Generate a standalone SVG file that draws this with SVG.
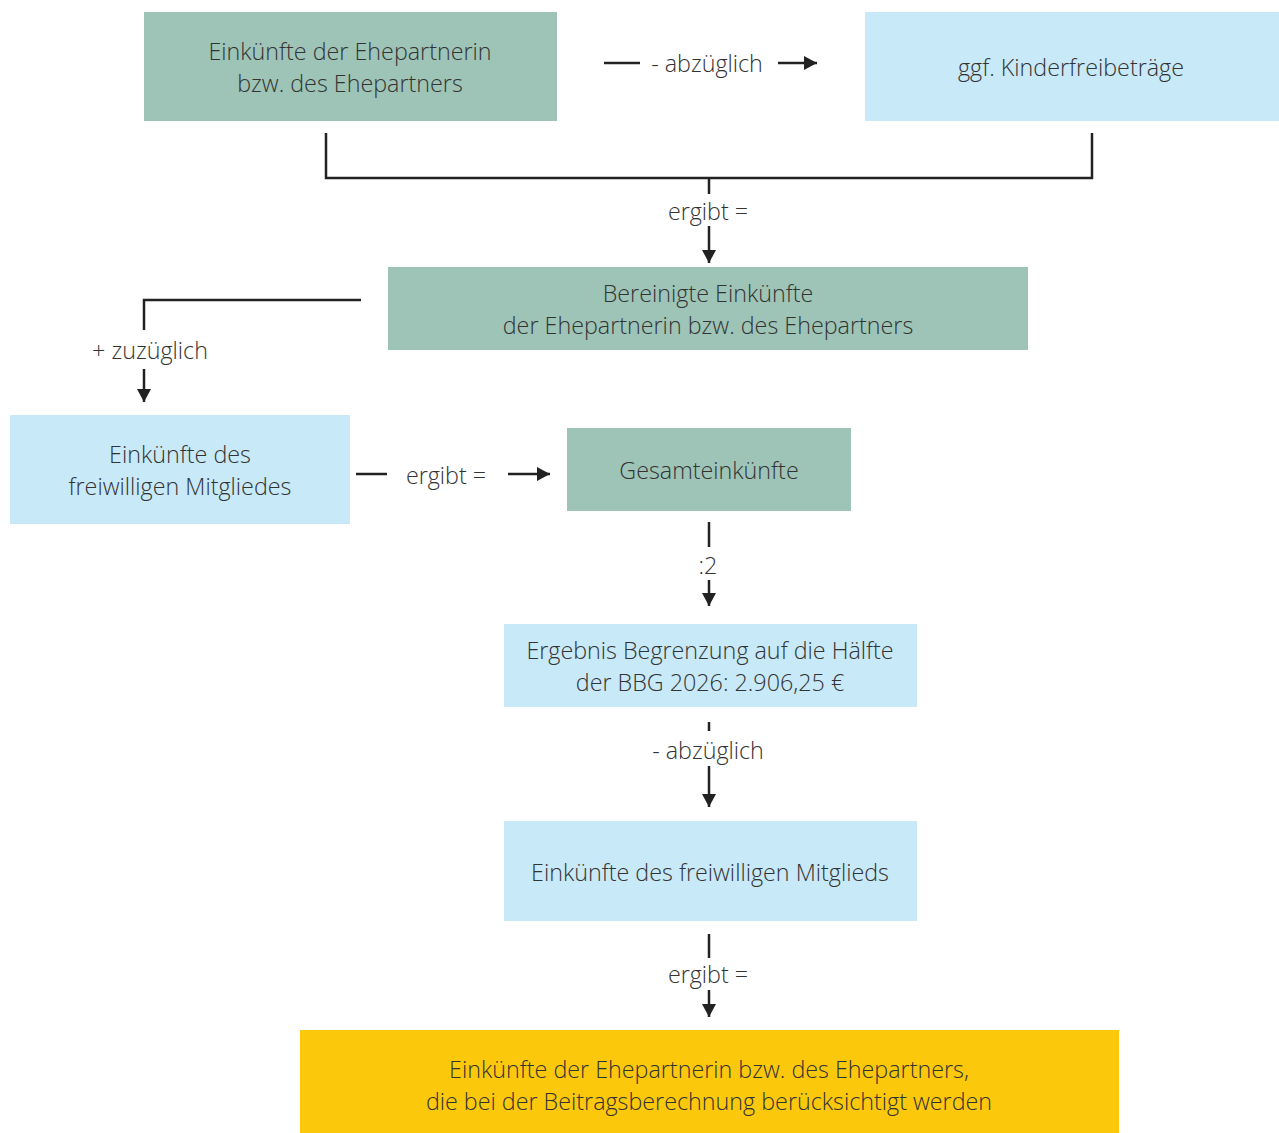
<svg xmlns="http://www.w3.org/2000/svg" width="1279" height="1133" viewBox="0 0 1279 1133">
<style>
text{font-family:"Open Sans","Noto Sans","Liberation Sans",sans-serif;font-weight:300;font-size:23.3px;fill:#333;text-anchor:middle;dominant-baseline:central}
.g{fill:#9dc4b6}.b{fill:#c8e9f8}.y{fill:#fcc80c}
.c{stroke:#222;stroke-width:2.5;fill:none}
</style>
<defs>
<marker id="ah" markerUnits="userSpaceOnUse" markerWidth="16" markerHeight="16" refX="13" refY="8" orient="auto">
<path d="M0,1 L13,8 L0,15 Z" fill="#222"/>
</marker>
</defs>
<rect width="1279" height="1133" fill="#fff"/>
<g id="n1"><rect class="g" x="144" y="12" width="413" height="109"/><text x="350" y="51">Einkünfte der Ehepartnerin</text><text x="350" y="83">bzw. des Ehepartners</text></g>
<g id="n2"><rect class="b" x="865" y="12" width="414" height="109"/><text x="1071" y="67">ggf. Kinderfreibeträge</text></g>
<g id="n3"><rect class="g" x="388" y="267" width="640" height="83"/><text x="708" y="293">Bereinigte Einkünfte</text><text x="708" y="325">der Ehepartnerin bzw. des Ehepartners</text></g>
<g id="n4"><rect class="b" x="10" y="415" width="340" height="109"/><text x="180" y="454">Einkünfte des</text><text x="180" y="486">freiwilligen Mitgliedes</text></g>
<g id="n5"><rect class="g" x="567" y="428" width="284" height="83"/><text x="709" y="470">Gesamteinkünfte</text></g>
<g id="n6"><rect class="b" x="504" y="624" width="413" height="83"/><text x="710" y="650">Ergebnis Begrenzung auf die Hälfte</text><text x="710" y="682">der BBG 2026: 2.906,25 €</text></g>
<g id="n7"><rect class="b" x="504" y="821" width="413" height="100"/><text x="710" y="872">Einkünfte des freiwilligen Mitglieds</text></g>
<g id="n8"><rect class="y" x="300" y="1030" width="819" height="103"/><text x="709" y="1069">Einkünfte der Ehepartnerin bzw. des Ehepartners,</text><text x="709" y="1101">die bei der Beitragsberechnung berücksichtigt werden</text></g>
<g id="connectors">
<line class="c" x1="604" y1="63" x2="640" y2="63"/>
<text x="707" y="63">- abzüglich</text>
<line class="c" x1="778" y1="63" x2="817" y2="63" marker-end="url(#ah)"/>
<polyline class="c" points="326,133 326,178 1092,178 1092,133"/>
<line class="c" x1="709" y1="178" x2="709" y2="194"/>
<text x="708" y="211">ergibt =</text>
<line class="c" x1="709" y1="226" x2="709" y2="263" marker-end="url(#ah)"/>
<polyline class="c" points="361,300 144,300 144,330"/>
<text x="150" y="350">+ zuzüglich</text>
<line class="c" x1="144" y1="369" x2="144" y2="402" marker-end="url(#ah)"/>
<line class="c" x1="356" y1="474" x2="387" y2="474"/>
<text x="446" y="475">ergibt =</text>
<line class="c" x1="508" y1="474" x2="550" y2="474" marker-end="url(#ah)"/>
<line class="c" x1="709" y1="522" x2="709" y2="547"/>
<text x="708" y="565">:2</text>
<line class="c" x1="709" y1="580" x2="709" y2="606" marker-end="url(#ah)"/>
<line class="c" x1="709" y1="722" x2="709" y2="731"/>
<text x="708" y="750">- abzüglich</text>
<line class="c" x1="709" y1="766" x2="709" y2="807" marker-end="url(#ah)"/>
<line class="c" x1="709" y1="934" x2="709" y2="958"/>
<text x="708" y="974">ergibt =</text>
<line class="c" x1="709" y1="990" x2="709" y2="1017" marker-end="url(#ah)"/>
</g>
</svg>
